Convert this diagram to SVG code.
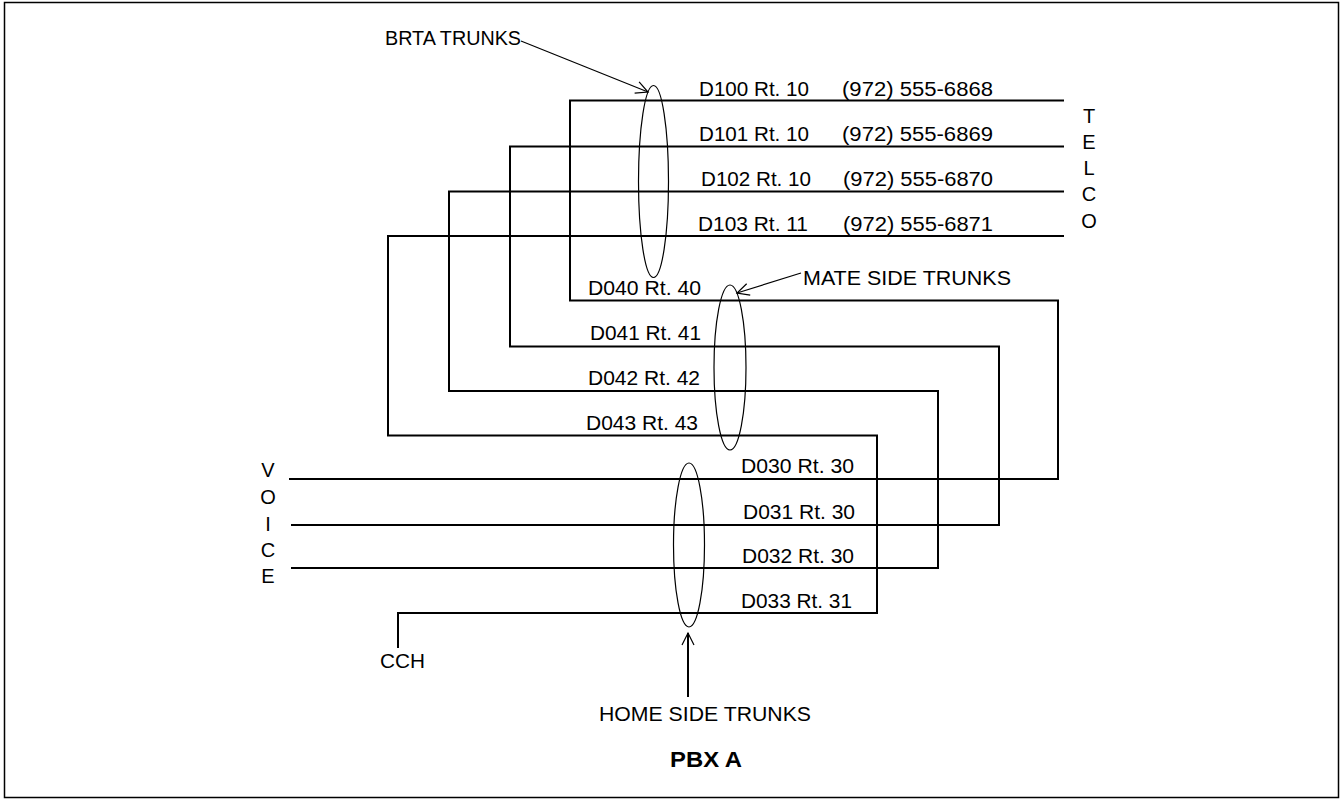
<svg xmlns="http://www.w3.org/2000/svg" width="1340" height="799" viewBox="0 0 1340 799">
<style>
.t{font-family:"Liberation Sans",Arial,sans-serif;font-size:20px;fill:#000}
.b{font-weight:bold;font-size:22px}
.w{fill:none;stroke:#000;stroke-width:2}
.e{fill:none;stroke:#000;stroke-width:1.2}
.a{fill:none;stroke:#000;stroke-width:1.2}
</style>
<defs>
<marker id="arr" markerUnits="userSpaceOnUse" markerWidth="16" markerHeight="14" refX="13" refY="7" orient="auto" viewBox="0 0 16 14">
<path d="M1,1 L13,7 L1,13" fill="none" stroke="#000" stroke-width="1.2"/>
</marker>
</defs>
<rect x="4.5" y="2.5" width="1334" height="795" fill="#fff" stroke="#000" stroke-width="1.5"/>
<g id="connectors">
<polyline class="w" points="1064,100.5 570,100.5 570,300.5 1058,300.5 1058,479 289,479"/>
<polyline class="w" points="1064,146.5 510,146.5 510,346.5 999,346.5 999,525 291,525"/>
<polyline class="w" points="1064,191.5 449,191.5 449,391 938,391 938,568 291,568"/>
<polyline class="w" points="1064,236 388,236 388,435.5 877,435.5 877,613 398,613 398,648"/>
<line class="a" x1="521" y1="41" x2="648" y2="92" marker-end="url(#arr)"/>
<line class="a" x1="801" y1="273" x2="737" y2="293" marker-end="url(#arr)"/>
<line class="w" x1="688" y1="697" x2="688" y2="633" style="stroke-width:2"/>
<line class="a" x1="688" y1="650" x2="688" y2="633" marker-end="url(#arr)"/>
</g>
<g id="brta-trunks">
<ellipse class="e" cx="653.5" cy="181.5" rx="15" ry="96"/>
<text class="t" x="385" y="45" textLength="136" lengthAdjust="spacingAndGlyphs">BRTA TRUNKS</text>
<text class="t" x="699" y="96" textLength="110" lengthAdjust="spacingAndGlyphs">D100 Rt. 10</text>
<text class="t" x="842" y="96" textLength="151" lengthAdjust="spacingAndGlyphs">(972) 555-6868</text>
<text class="t" x="699" y="141" textLength="110" lengthAdjust="spacingAndGlyphs">D101 Rt. 10</text>
<text class="t" x="842" y="141" textLength="151" lengthAdjust="spacingAndGlyphs">(972) 555-6869</text>
<text class="t" x="701" y="186" textLength="110" lengthAdjust="spacingAndGlyphs">D102 Rt. 10</text>
<text class="t" x="843" y="186" textLength="150" lengthAdjust="spacingAndGlyphs">(972) 555-6870</text>
<text class="t" x="698" y="230.5" textLength="110" lengthAdjust="spacingAndGlyphs">D103 Rt. 11</text>
<text class="t" x="843" y="230.5" textLength="150" lengthAdjust="spacingAndGlyphs">(972) 555-6871</text>
</g>
<g id="mate-side-trunks">
<ellipse class="e" cx="730" cy="367.5" rx="16" ry="82.5"/>
<text class="t" x="803" y="285" textLength="208" lengthAdjust="spacingAndGlyphs">MATE SIDE TRUNKS</text>
<text class="t" x="588" y="295" textLength="113" lengthAdjust="spacingAndGlyphs">D040 Rt. 40</text>
<text class="t" x="590" y="340" textLength="111" lengthAdjust="spacingAndGlyphs">D041 Rt. 41</text>
<text class="t" x="588" y="385" textLength="112" lengthAdjust="spacingAndGlyphs">D042 Rt. 42</text>
<text class="t" x="586" y="430" textLength="112" lengthAdjust="spacingAndGlyphs">D043 Rt. 43</text>
</g>
<g id="home-side-trunks">
<ellipse class="e" cx="689" cy="545" rx="15.5" ry="82"/>
<text class="t" x="599" y="721" textLength="212" lengthAdjust="spacingAndGlyphs">HOME SIDE TRUNKS</text>
<text class="t" x="741" y="473" textLength="113" lengthAdjust="spacingAndGlyphs">D030 Rt. 30</text>
<text class="t" x="743" y="519" textLength="112" lengthAdjust="spacingAndGlyphs">D031 Rt. 30</text>
<text class="t" x="742" y="563" textLength="112" lengthAdjust="spacingAndGlyphs">D032 Rt. 30</text>
<text class="t" x="741" y="608" textLength="111" lengthAdjust="spacingAndGlyphs">D033 Rt. 31</text>
</g>
<g id="telco" class="t" text-anchor="middle">
<text class="t" x="1089" y="123">T</text>
<text class="t" x="1089" y="149">E</text>
<text class="t" x="1089" y="175">L</text>
<text class="t" x="1089" y="201">C</text>
<text class="t" x="1089" y="228">O</text>
</g>
<g id="voice" text-anchor="middle">
<text class="t" x="268" y="477">V</text>
<text class="t" x="268" y="504">O</text>
<text class="t" x="268" y="531">I</text>
<text class="t" x="268" y="557">C</text>
<text class="t" x="268" y="583">E</text>
</g>
<g id="cch">
<text class="t" x="380" y="668" textLength="45" lengthAdjust="spacingAndGlyphs">CCH</text>
</g>
<g id="title">
<text class="t b" x="670" y="767" textLength="72" lengthAdjust="spacingAndGlyphs">PBX A</text>
</g>
</svg>
